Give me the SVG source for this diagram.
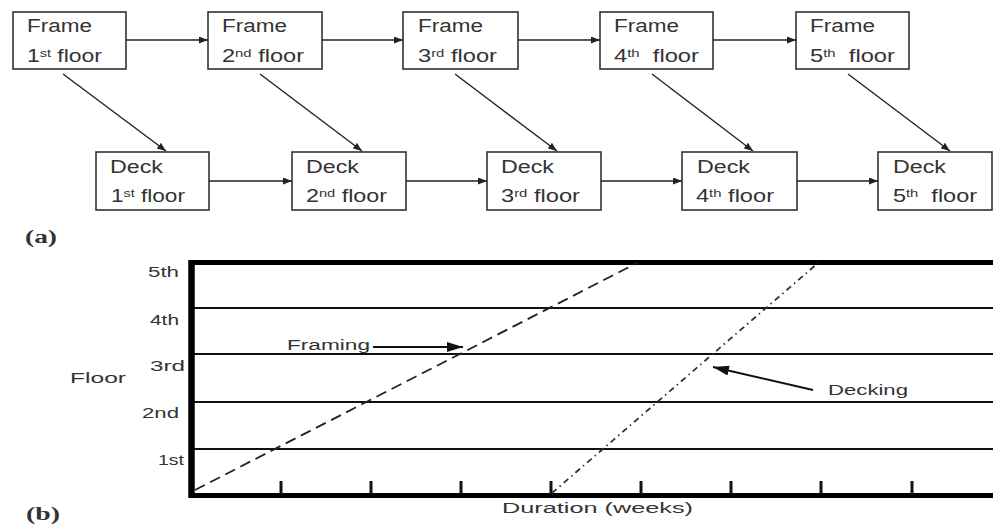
<svg xmlns="http://www.w3.org/2000/svg" width="993" height="527" viewBox="0 0 993 527">
  <defs>
    <marker id="arr" markerUnits="userSpaceOnUse" markerWidth="10" markerHeight="8" refX="9" refY="3.5" orient="auto">
      <path d="M0,0 L9,3.5 L0,7 z" fill="#222"/>
    </marker>
    <marker id="arrBig" markerUnits="userSpaceOnUse" markerWidth="18" markerHeight="12" refX="16" refY="5" orient="auto">
      <path d="M0,0 L16,5 L0,10 z" fill="#111"/>
    </marker>
  </defs>
  <style>
    .box { fill: #fff; stroke: #333; stroke-width: 1.6; }
    .lbl { font-family: "Liberation Sans", Arial, sans-serif; font-size: 17.5px; fill: #333; }
    .sup { font-size: 11px; }
    .link { stroke: #222; stroke-width: 1.4; fill: none; marker-end: url(#arr); }
    .ax { font-family: "Liberation Sans", Arial, sans-serif; font-size: 15.5px; fill: #333; }
    .cap { font-family: "Liberation Serif", "Times New Roman", serif; font-size: 18px; font-weight: bold; fill: #333; }
    .grid { stroke: #111; stroke-width: 2; }
    .frameB { stroke: #000; fill: none; }
    .tick { stroke: #111; stroke-width: 3; }
  </style>
  <rect width="993" height="527" fill="#fff"/>

  <!-- (a) precedence network -->
  <g id="frame1"><rect class="box" x="13" y="12" width="113" height="57"/>
    <text class="lbl" x="27" y="32" textLength="65" lengthAdjust="spacingAndGlyphs">Frame</text>
    <text class="lbl" x="27" y="62" textLength="75" lengthAdjust="spacingAndGlyphs">1<tspan class="sup" dy="-5">st</tspan><tspan dy="5"> floor</tspan></text></g>
  <g id="frame2"><rect class="box" x="208" y="12" width="114" height="57"/>
    <text class="lbl" x="222" y="32" textLength="65" lengthAdjust="spacingAndGlyphs">Frame</text>
    <text class="lbl" x="222" y="62" textLength="82" lengthAdjust="spacingAndGlyphs">2<tspan class="sup" dy="-5">nd</tspan><tspan dy="5"> floor</tspan></text></g>
  <g id="frame3"><rect class="box" x="403" y="12" width="115" height="57"/>
    <text class="lbl" x="418" y="32" textLength="65" lengthAdjust="spacingAndGlyphs">Frame</text>
    <text class="lbl" x="418" y="62" textLength="79" lengthAdjust="spacingAndGlyphs">3<tspan class="sup" dy="-5">rd</tspan><tspan dy="5"> floor</tspan></text></g>
  <g id="frame4"><rect class="box" x="600" y="12" width="113" height="57"/>
    <text class="lbl" x="614" y="32" textLength="65" lengthAdjust="spacingAndGlyphs">Frame</text>
    <text class="lbl" x="614" y="62" textLength="85" lengthAdjust="spacingAndGlyphs">4<tspan class="sup" dy="-5">th</tspan><tspan dy="5">&#160; floor</tspan></text></g>
  <g id="frame5"><rect class="box" x="796" y="12" width="113" height="57"/>
    <text class="lbl" x="810" y="32" textLength="65" lengthAdjust="spacingAndGlyphs">Frame</text>
    <text class="lbl" x="810" y="62" textLength="85" lengthAdjust="spacingAndGlyphs">5<tspan class="sup" dy="-5">th</tspan><tspan dy="5">&#160; floor</tspan></text></g>

  <g id="deck1"><rect class="box" x="96" y="152" width="113" height="58"/>
    <text class="lbl" x="110" y="173" textLength="53" lengthAdjust="spacingAndGlyphs">Deck</text>
    <text class="lbl" x="111" y="202" textLength="74" lengthAdjust="spacingAndGlyphs">1<tspan class="sup" dy="-5">st</tspan><tspan dy="5"> floor</tspan></text></g>
  <g id="deck2"><rect class="box" x="292" y="152" width="114" height="58"/>
    <text class="lbl" x="306" y="173" textLength="53" lengthAdjust="spacingAndGlyphs">Deck</text>
    <text class="lbl" x="306" y="202" textLength="81" lengthAdjust="spacingAndGlyphs">2<tspan class="sup" dy="-5">nd</tspan><tspan dy="5"> floor</tspan></text></g>
  <g id="deck3"><rect class="box" x="487" y="152" width="114" height="58"/>
    <text class="lbl" x="501" y="173" textLength="53" lengthAdjust="spacingAndGlyphs">Deck</text>
    <text class="lbl" x="501" y="202" textLength="79" lengthAdjust="spacingAndGlyphs">3<tspan class="sup" dy="-5">rd</tspan><tspan dy="5"> floor</tspan></text></g>
  <g id="deck4"><rect class="box" x="682" y="152" width="115" height="58"/>
    <text class="lbl" x="697" y="173" textLength="53" lengthAdjust="spacingAndGlyphs">Deck</text>
    <text class="lbl" x="696" y="202" textLength="78" lengthAdjust="spacingAndGlyphs">4<tspan class="sup" dy="-5">th</tspan><tspan dy="5"> floor</tspan></text></g>
  <g id="deck5"><rect class="box" x="878" y="152" width="114" height="58"/>
    <text class="lbl" x="893" y="173" textLength="53" lengthAdjust="spacingAndGlyphs">Deck</text>
    <text class="lbl" x="893" y="202" textLength="84" lengthAdjust="spacingAndGlyphs">5<tspan class="sup" dy="-5">th</tspan><tspan dy="5">&#160; floor</tspan></text></g>

  <g id="connectors">
    <line class="link" x1="126" y1="40" x2="208" y2="40"/>
    <line class="link" x1="322" y1="40" x2="403" y2="40"/>
    <line class="link" x1="518" y1="40" x2="600" y2="40"/>
    <line class="link" x1="713" y1="40" x2="796" y2="40"/>
    <line class="link" x1="209" y1="181" x2="292" y2="181"/>
    <line class="link" x1="406" y1="181" x2="487" y2="181"/>
    <line class="link" x1="601" y1="181" x2="682" y2="181"/>
    <line class="link" x1="797" y1="181" x2="878" y2="181"/>
    <line class="link" x1="63" y1="74" x2="166" y2="151"/>
    <line class="link" x1="260" y1="74" x2="362" y2="151"/>
    <line class="link" x1="455" y1="74" x2="557" y2="151"/>
    <line class="link" x1="652" y1="74" x2="753" y2="151"/>
    <line class="link" x1="848" y1="74" x2="950" y2="151"/>
  </g>

  <text class="cap" x="25" y="243" textLength="32" lengthAdjust="spacingAndGlyphs">(a)</text>

  <!-- (b) line-of-balance chart -->
  <g id="chart">
    <line class="grid" x1="192" y1="308" x2="993" y2="308"/>
    <line class="grid" x1="192" y1="354" x2="993" y2="354"/>
    <line class="grid" x1="192" y1="402" x2="993" y2="402"/>
    <line class="grid" x1="192" y1="449" x2="993" y2="449"/>
    <line class="frameB" x1="189" y1="262.5" x2="993" y2="262.5" stroke-width="5"/>
    <line class="frameB" x1="189" y1="495.5" x2="993" y2="495.5" stroke-width="5"/>
    <line class="frameB" x1="191.5" y1="260" x2="191.5" y2="498" stroke-width="6.5"/>
    <line class="tick" x1="281" y1="481" x2="281" y2="494"/>
    <line class="tick" x1="371" y1="481" x2="371" y2="494"/>
    <line class="tick" x1="461" y1="481" x2="461" y2="494"/>
    <line class="tick" x1="551" y1="481" x2="551" y2="494"/>
    <line class="tick" x1="641" y1="481" x2="641" y2="494"/>
    <line class="tick" x1="731" y1="481" x2="731" y2="494"/>
    <line class="tick" x1="821" y1="481" x2="821" y2="494"/>
    <line class="tick" x1="912" y1="481" x2="912" y2="494"/>

    <!-- framing progress (dashed) -->
    <line x1="195" y1="490" x2="637" y2="263" stroke="#222" stroke-width="1.8" stroke-dasharray="11 6"/>
    <!-- decking progress (dash-dot) -->
    <line x1="552" y1="493" x2="818" y2="263" stroke="#333" stroke-width="1.8" stroke-dasharray="6 4 1.5 4"/>

    <text class="ax" x="148" y="277" textLength="31" lengthAdjust="spacingAndGlyphs">5th</text>
    <text class="ax" x="150" y="325" textLength="29" lengthAdjust="spacingAndGlyphs">4th</text>
    <text class="ax" x="150" y="371" textLength="35" lengthAdjust="spacingAndGlyphs">3rd</text>
    <text class="ax" x="142" y="418" textLength="37" lengthAdjust="spacingAndGlyphs">2nd</text>
    <text class="ax" x="158" y="465" textLength="26" lengthAdjust="spacingAndGlyphs">1st</text>
    <text class="ax" x="70" y="383" textLength="56" lengthAdjust="spacingAndGlyphs">Floor</text>

    <text class="ax" x="287" y="350" textLength="83" lengthAdjust="spacingAndGlyphs">Framing</text>
    <line x1="373" y1="347" x2="463" y2="347" stroke="#111" stroke-width="1.8" marker-end="url(#arrBig)"/>
    <text class="ax" x="828" y="395" textLength="80" lengthAdjust="spacingAndGlyphs">Decking</text>
    <line x1="813" y1="390" x2="713" y2="367" stroke="#111" stroke-width="1.8" marker-end="url(#arrBig)"/>

    <text class="ax" x="502" y="513" textLength="191" lengthAdjust="spacingAndGlyphs">Duration (weeks)</text>
  </g>

  <text class="cap" x="26" y="520" textLength="34" lengthAdjust="spacingAndGlyphs">(b)</text>
</svg>
